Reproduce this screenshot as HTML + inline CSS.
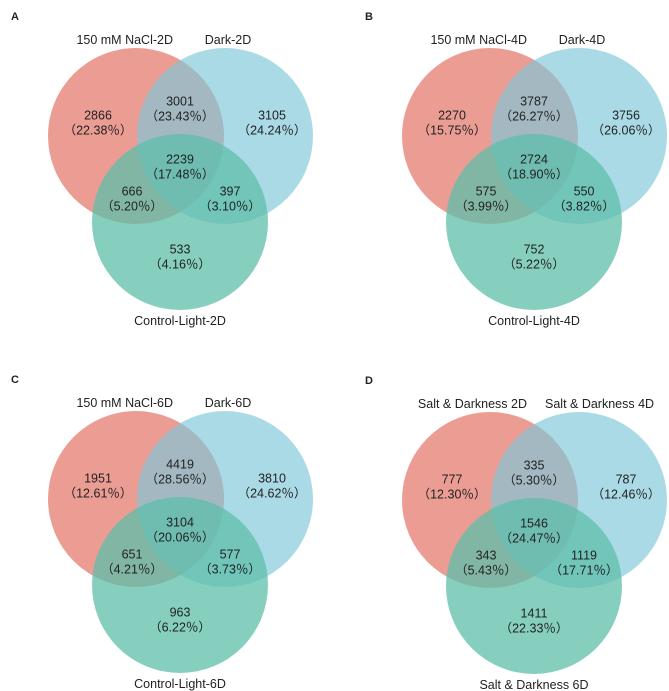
<!DOCTYPE html>
<html><head><meta charset="utf-8"><style>
html,body{margin:0;padding:0;background:#fff}
svg{display:block}
text{font-family:"Liberation Sans","Noto Sans CJK SC",sans-serif;fill:#222}
</style></head><body>
<svg id="chart" width="669" height="691" viewBox="0 0 669 691" xmlns="http://www.w3.org/2000/svg"></svg>
<script>
const panelLetters = ["A","B","C","D"];
const setNames1 = ["150 mM NaCl-2D","150 mM NaCl-4D","150 mM NaCl-6D","Salt & Darkness 2D"];
const setNames2 = ["Dark-2D","Dark-4D","Dark-6D","Salt & Darkness 4D"];
const setNames3 = ["Control-Light-2D","Control-Light-4D","Control-Light-6D","Salt & Darkness 6D"];
// region order: onlyA, AB, onlyB, ABC, AC, BC, onlyC
const regionCounts = [
  [2866,3001,3105,2239,666,397,533],
  [2270,3787,3756,2724,575,550,752],
  [1951,4419,3810,3104,651,577,963],
  [777,335,787,1546,343,1119,1411]
];
const regionPcts = [
  ["22.38","23.43","24.24","17.48","5.20","3.10","4.16"],
  ["15.75","26.27","26.06","18.90","3.99","3.82","5.22"],
  ["12.61","28.56","24.62","20.06","4.21","3.73","6.22"],
  ["12.30","5.30","12.46","24.47","5.43","17.71","22.33"]
];
const regionNames = ["only-set1","set1-set2","only-set2","all-three","set1-set3","set2-set3","only-set3"];

const NS="http://www.w3.org/2000/svg";
const svg=document.getElementById('chart');
const offsets=[[0,0],[354,0],[0,363],[354,364]];
const labelPos=[[98,115],[180,101],[272,115],[180,159],[132,191],[230,191],[180,249]];
function mk(tag,attrs,parent){const e=document.createElementNS(NS,tag);for(const k in attrs)e.setAttribute(k,attrs[k]);parent.appendChild(e);return e;}

for(let p=0;p<4;p++){
  const [dx,dy]=offsets[p];
  const g=mk('g',{transform:`translate(${dx},${dy})`},svg);
  
  
  const L=mk('text',{x:11,y:20,'font-size':11,'font-weight':'bold'},g);
  
  
  L.textContent=panelLetters[p];
  const c1=mk('circle',{cx:136,cy:136,r:88,fill:'#e0695a','fill-opacity':0.65},g);
  
  
  const c2=mk('circle',{cx:225,cy:136,r:88,fill:'#7cc6d8','fill-opacity':0.65},g);
  
  
  const c3=mk('circle',{cx:180,cy:222,r:88,fill:'#5ebfa9','fill-opacity':0.75},g);
  
  
  const t1=mk('text',{x:173,y:44,'font-size':12.5,'text-anchor':'end'},g);
  
  
  t1.textContent=setNames1[p];
  const t2=p===3?mk('text',{x:191,y:44,'font-size':12.5,'text-anchor':'start'},g):mk('text',{x:228,y:44,'font-size':12.5,'text-anchor':'middle'},g);
  
  
  t2.textContent=setNames2[p];
  const t3=mk('text',{x:180,y:325,'font-size':12.5,'text-anchor':'middle'},g);
  
  
  t3.textContent=setNames3[p];
  for(let i=0;i<7;i++){
    const [x,y]=labelPos[i];
    const a=mk('text',{x:x,y:y+4.5,'font-size':12.5,'text-anchor':'middle'},g);
    
    
    a.textContent=regionCounts[p][i];
    const b=mk('text',{x:x,y:y+19.5,'font-size':12.5,'text-anchor':'middle'},g);
    
    
    b.textContent='（'+regionPcts[p][i]+'％）';
  }
}
</script>
</body></html>
